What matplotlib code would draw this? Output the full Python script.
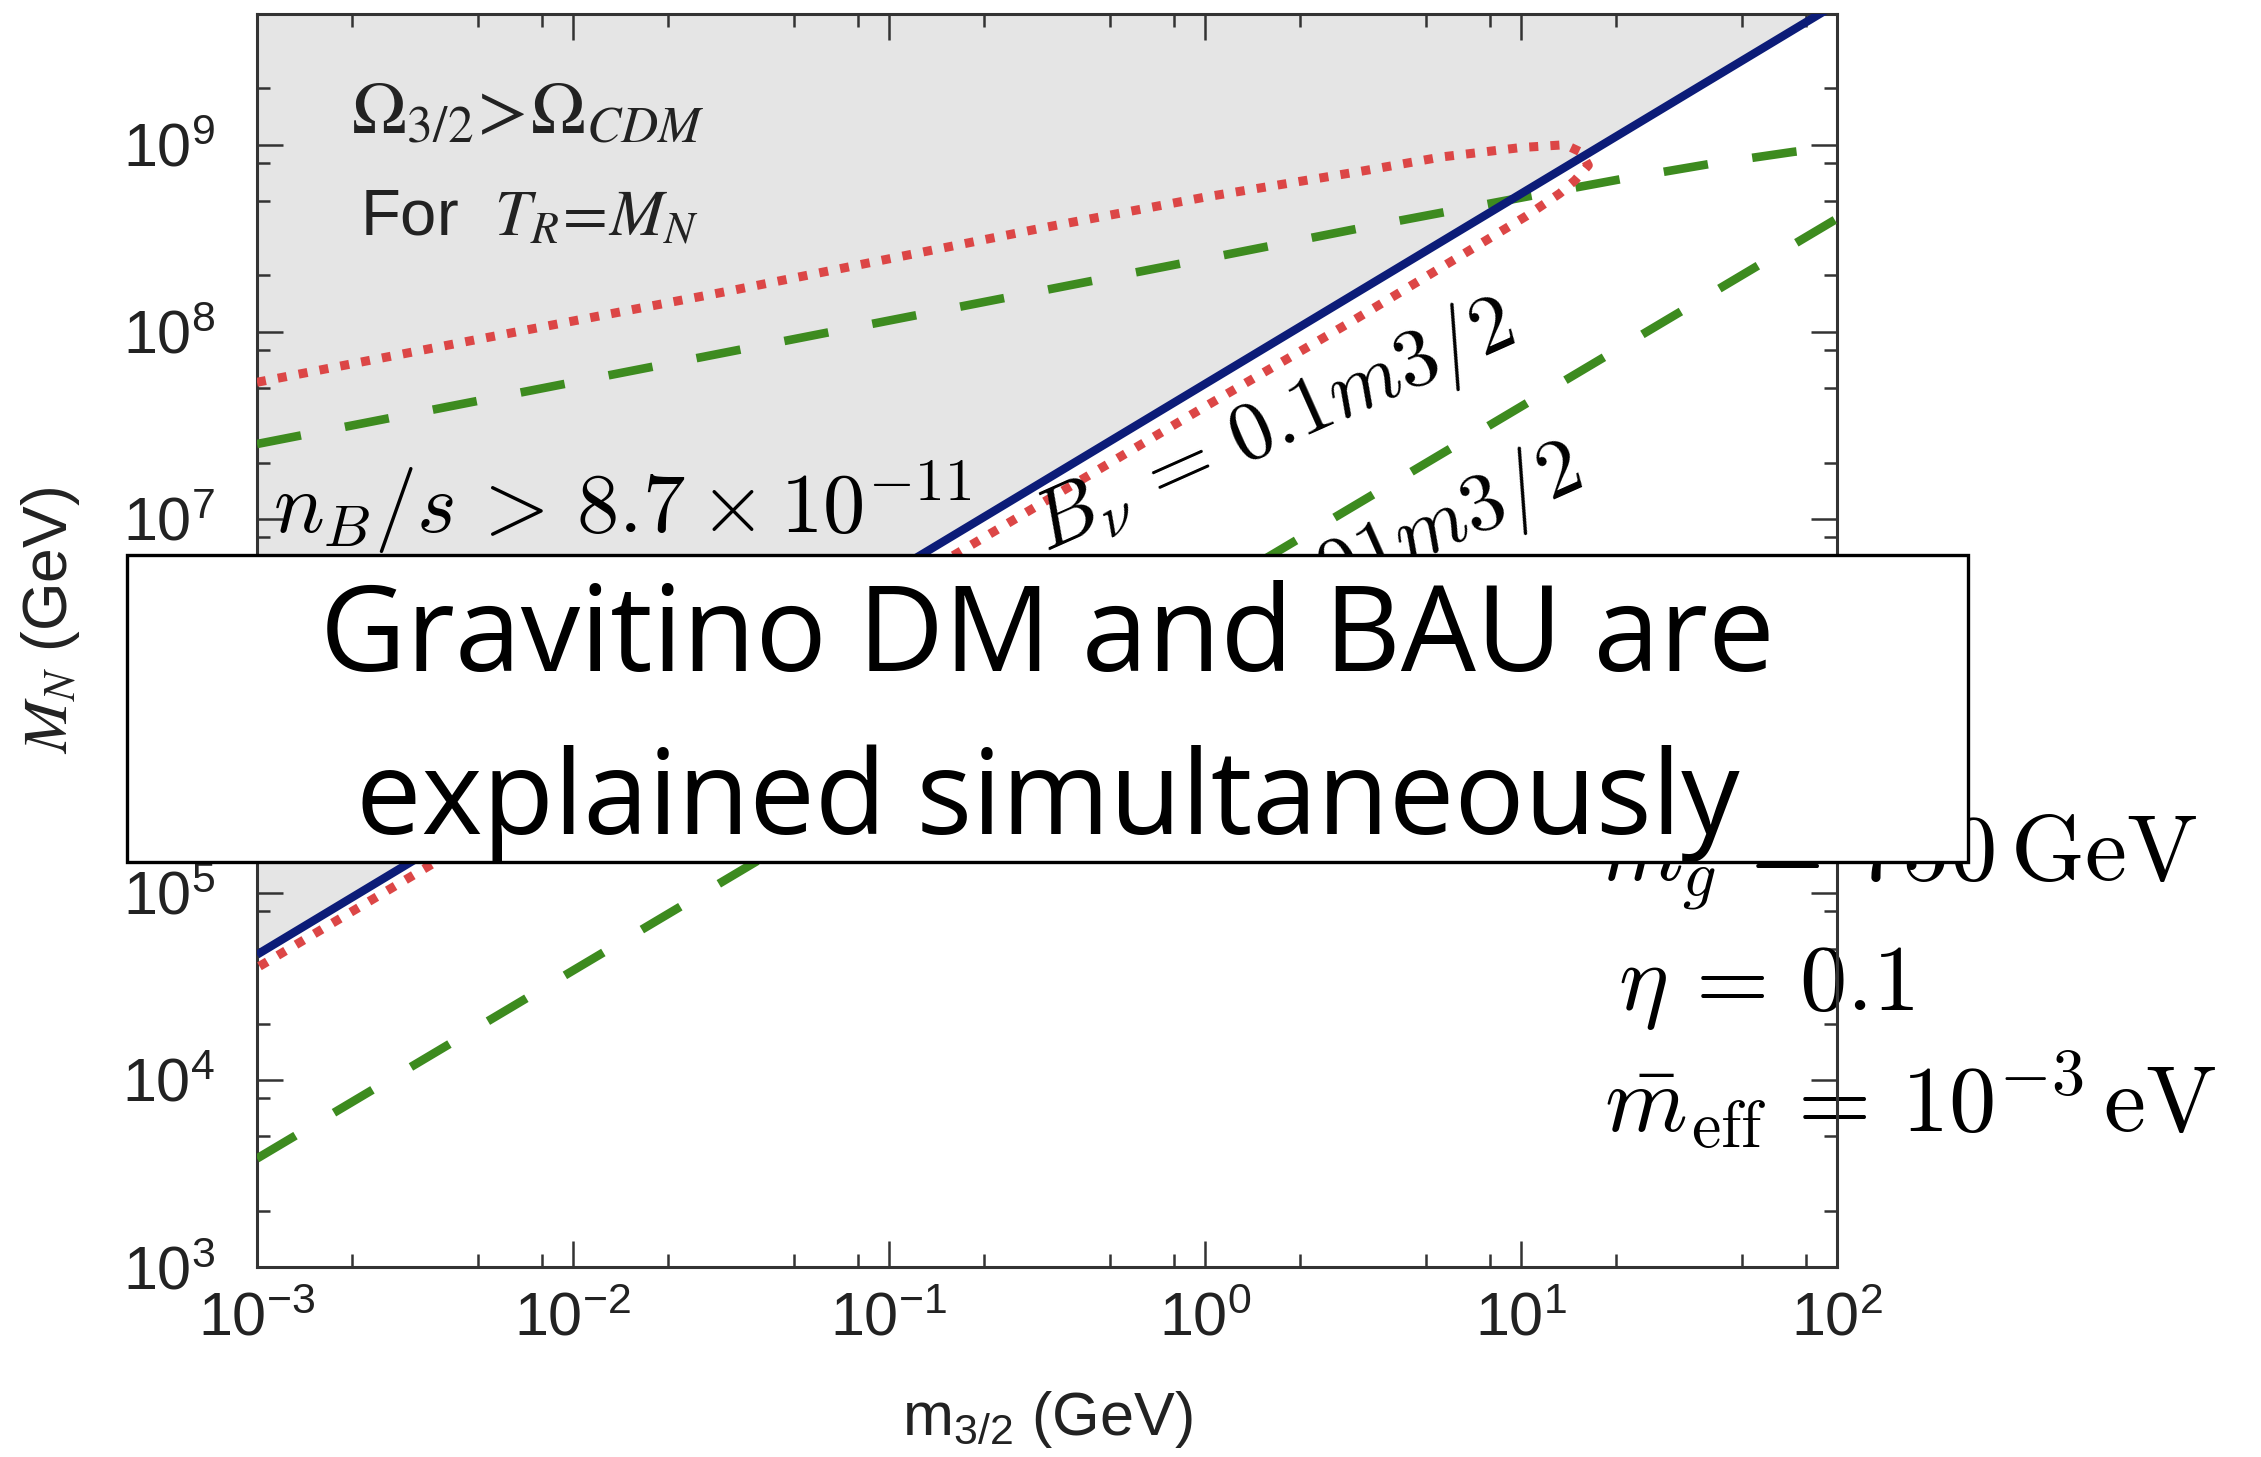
import numpy as np
import matplotlib
matplotlib.use('Agg')
import matplotlib.pyplot as plt
from matplotlib.ticker import LogLocator, LogFormatterSciNotation, NullFormatter
from matplotlib.patches import Rectangle

# ---------------- data (log10 values) ----------------
x_lim = (1e-3, 1e2)
y_lim = (1e3, 5e9)

# solid blue line: Omega_3/2 = Omega_CDM for T_R = M_N
blue_logx = [-3.0, 2.0]
blue_logy = [4.67, 9.755]

# red dotted closed contour: B_nu = 0.1 m_3/2
red_logx = [-3.0, -2.3, -1.5, -1.0, -0.5, 0.0, 0.5, 0.75, 1.0, 1.14, 1.19, 1.213,
            1.171, 1.123, 1.018, 0.744, 0.459, 0.0, -1.0, -2.0, -3.0]
red_logy = [7.73, 7.96, 8.22, 8.39, 8.56, 8.72, 8.86, 8.935, 8.985, 9.0, 8.96, 8.89,
            8.81, 8.74, 8.62, 8.34, 8.05, 7.60, 6.60, 5.60, 4.60]

# green dashed contour: B_nu = 0.01 m_3/2 (upper and lower branch)
green_up_logx = [-3.0, -2.0, -1.0, 0.0, 0.527, 1.057, 1.329, 1.593, 1.862, 2.0]
green_up_logy = [7.40, 7.73, 8.06, 8.39, 8.566, 8.735, 8.82, 8.896, 8.962, 8.99]
green_lo_logx = [-3.0, 2.0]
green_lo_logy = [3.58, 8.605]

# ---------------- styling ----------------
plt.rcParams['font.family'] = ['Liberation Sans', 'DejaVu Sans']
plt.rcParams['mathtext.fontset'] = 'custom'
plt.rcParams['mathtext.rm'] = 'Liberation Sans'
plt.rcParams['mathtext.it'] = 'Liberation Sans:italic'
plt.rcParams['mathtext.bf'] = 'Liberation Sans:bold'

GRAY = '#e5e5e5'
BLUE = '#0c1c78'
RED = '#dc4646'
GREEN = '#3d8b1f'
SPINE = '#333333'
TXT = '#222222'

fig = plt.figure(figsize=(22.61, 14.57), dpi=100)
ax = fig.add_axes([257/2261, 1-1267/1457, 1580/2261, 1253/1457])
ax.set_xscale('log')
ax.set_yscale('log')
ax.set_xlim(*x_lim)
ax.set_ylim(*y_lim)

bx = 10**np.array(blue_logx)
by = 10**np.array(blue_logy)
ax.fill_between(bx, by, y_lim[1], color=GRAY, lw=0, zorder=0)

ax.plot(10**np.array(green_up_logx), 10**np.array(green_up_logy), color=GREEN, lw=6.2,
        linestyle=(0, (5.2, 5.2)), dash_capstyle='butt', zorder=3)
ax.plot(10**np.array(green_lo_logx), 10**np.array(green_lo_logy), color=GREEN, lw=6.2,
        linestyle=(0, (5.2, 5.2)), dash_capstyle='butt', zorder=3)
ax.plot(10**np.array(red_logx), 10**np.array(red_logy), color=RED, lw=6.5,
        linestyle=(0, (1, 1.35)), dash_capstyle='butt', zorder=4)
ax.plot(bx, by, color=BLUE, lw=6, solid_capstyle='butt', zorder=5)

# ticks
for axis in (ax.xaxis, ax.yaxis):
    axis.set_major_locator(LogLocator(base=10, numticks=20))
    axis.set_minor_locator(LogLocator(base=10, subs=[2, 5, 8], numticks=20))
    axis.set_minor_formatter(NullFormatter())
    axis.set_major_formatter(LogFormatterSciNotation())
ax.tick_params(which='both', direction='in', top=True, right=True, colors=SPINE,
               labelcolor=TXT, width=1.8)
ax.tick_params(which='major', length=19, labelsize=44)
ax.tick_params(which='minor', length=9.5)
ax.tick_params(axis='x', which='major', pad=18)
ax.tick_params(axis='y', which='major', pad=30)
for sp in ax.spines.values():
    sp.set_color(SPINE)
    sp.set_linewidth(2.2)

ax.set_xlabel('m$_{3/2}$ (GeV)', fontsize=44, color=TXT, va='center')
ax.xaxis.set_label_coords(0.5, (1267-1420)/1253)
ax.set_ylabel('$M_N$ (GeV)', fontsize=45, color=TXT, va='center', math_fontfamily='stix')
ax.yaxis.set_label_coords((50-257)/1580, (1267-620)/1253)

# annotations inside the axes
ax.text(0.0595, 0.9042, r'$\Omega_{3/2}\!>\!\Omega_{CDM}$', transform=ax.transAxes,
        fontsize=53, math_fontfamily='stix', color=TXT, va='baseline', ha='left')
ax.text(0.0652, 0.8228, r'For  $T_R\!=\!M_N$', transform=ax.transAxes,
        fontsize=47, math_fontfamily='stix', color=TXT, va='baseline', ha='left')
ax.text(0.0101, 0.5858, r'$n_B/s\,>\,8.7\times10^{-11}$', transform=ax.transAxes,
        fontsize=61, math_fontfamily='cm', color='black', va='baseline', ha='left', zorder=6)
ax.text(0.4994, 0.5710, r'$B_\nu\,=\,0.1m3/2$', transform=ax.transAxes, rotation=24,
        rotation_mode='anchor', fontsize=60, math_fontfamily='cm', color='black',
        va='baseline', ha='left', zorder=6)
ax.text(0.5177, 0.4420, r'$B_\nu\,=\,0.01m3/2$', transform=ax.transAxes, rotation=24,
        rotation_mode='anchor', fontsize=60, math_fontfamily='cm', color='black',
        va='baseline', ha='left', zorder=6)

# parameter texts (straddling the right spine)
ax.text(0.850, 0.3089, r'$m_{\tilde g}\,=\,750\,\mathrm{GeV}$', transform=ax.transAxes,
        fontsize=68, math_fontfamily='cm', color='black', va='baseline', ha='left',
        clip_on=False, zorder=2)
ax.text(0.8614, 0.2051, r'$\eta\,=\,0.1$', transform=ax.transAxes,
        fontsize=68, math_fontfamily='cm', color='black', va='baseline', ha='left',
        clip_on=False, zorder=2)
ax.text(0.8525, 0.1077, r'$\bar{m}_{\rm eff}\,=\,10^{-3}\,\mathrm{eV}$', transform=ax.transAxes,
        fontsize=68, math_fontfamily='cm', color='black', va='baseline', ha='left',
        clip_on=False, zorder=2)

# overlay box
box = Rectangle((127/2261, 1-862/1457), (1968-127)/2261, (862-555)/1457,
                transform=fig.transFigure, facecolor='white', edgecolor='black',
                linewidth=2.4, zorder=10)
fig.add_artist(box)
BOXFONT = ['Open Sans', 'DejaVu Sans']
fig.text(1047.5/2261, 1-671/1457, 'Gravitino DM and BAU are', ha='center', va='baseline',
         fontsize=85.5, family=BOXFONT, color='black', zorder=11)
fig.text(1047.5/2261, 1-834/1457, 'explained simultaneously', ha='center', va='baseline',
         fontsize=84, family=BOXFONT, color='black', zorder=11)

fig.savefig('out.png', dpi=100)
